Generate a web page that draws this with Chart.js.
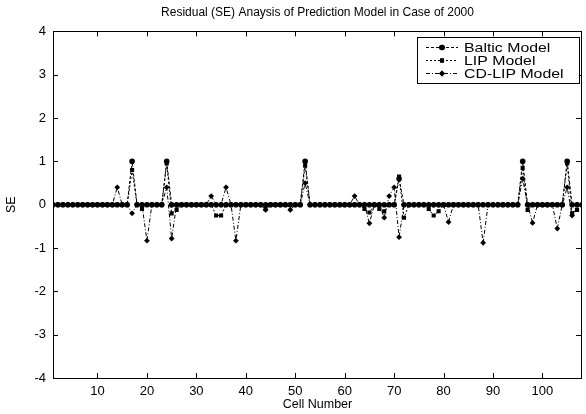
<!DOCTYPE html>
<html>
<head>
<meta charset="utf-8">
<script src="https://cdn.jsdelivr.net/npm/chart.js@4.4.1/dist/chart.umd.min.js"></script>
<style>
  html, body { margin: 0; padding: 0; background: #fff; }
  #wrap { width: 586px; height: 414px; }
</style>
</head>
<body>
<div id="wrap"><canvas id="chart" width="586" height="414"></canvas></div>
<script>
// cell numbers 1..108
const cells = Array.from({ length: 108 }, (_, i) => i + 1);

// residuals, 12 cells per row
const baltic = [
  0, 0, 0, 0, 0, 0, 0, 0, 0, 0, 0, 0,
  0, 0, 0, 0, 1.0, 0, 0, 0, 0, 0, 0, 1.0,
  0, 0, 0, 0, 0, 0, 0, 0, 0, 0, 0, 0,
  0, 0, 0, 0, 0, 0, 0, 0, 0, 0, 0, 0,
  0, 0, 0, 1.0, 0, 0, 0, 0, 0, 0, 0, 0,
  0, 0, 0, 0, 0, 0, 0, 0, 0, 0, 0.6, 0,
  0, 0, 0, 0, 0, 0, 0, 0, 0, 0, 0, 0,
  0, 0, 0, 0, 0, 0, 0, 0, 0, 0, 0, 1.0,
  0, 0, 0, 0, 0, 0, 0, 0, 1.0, 0, 0, 0
];
const lip = [
  0, 0, 0, 0, 0, 0, 0, 0, 0, 0, 0, 0,
  0, 0, 0, 0, 0.8, 0, -0.1, 0, 0, 0, 0, 0.95,
  -0.2, -0.12, 0, 0, 0, 0, 0, 0, 0, -0.25, -0.25, 0,
  0, 0, 0, 0, 0, 0, 0, -0.1, 0, 0, 0, 0,
  0, 0, 0, 0.9, 0, 0, 0, 0, 0, 0, 0, 0,
  0, 0, 0, -0.1, -0.18, 0, -0.1, -0.15, 0, 0, 0.65, -0.3,
  0, 0, 0, 0, -0.1, -0.25, -0.15, 0, 0, 0, 0, 0,
  0, 0, 0, 0, 0, 0, 0, 0, 0, 0, 0, 0.85,
  -0.12, 0, 0, 0, 0, 0, 0, 0, 0.95, -0.2, -0.12, 0
];
const cdlip = [
  0, 0, 0, 0, 0, 0, 0, 0, 0, 0, 0, 0,
  0, 0.4, 0, 0, -0.2, 0, 0, -0.83, 0, 0, 0, 0.4,
  -0.78, 0, 0, 0, 0, 0, 0, 0, 0.2, 0, 0, 0.4,
  0, -0.83, 0, 0, 0, 0, 0, -0.12, 0, 0, 0, 0,
  -0.12, 0, 0, 0.5, 0, 0, 0, 0, 0, 0, 0, 0,
  0, 0.2, 0, 0, -0.43, 0, 0, -0.3, 0.2, 0.4, -0.75, 0,
  0, 0, 0, 0, 0, 0, 0, 0, -0.4, 0, 0, 0,
  0, 0, 0, -0.88, 0, 0, 0, 0, 0, 0, 0, 0.6,
  0, -0.42, 0, 0, 0, 0, -0.55, 0, 0.4, -0.25, 0, 0
];

const seriesNames = ["Baltic Model", "LIP Model", "CD-LIP Model"];
const xTicks = [10, 20, 30, 40, 50, 60, 70, 80, 90, 100];
const yTicks = [-4, -3, -2, -1, 0, 1, 2, 3, 4];

const FONT = "'Liberation Sans', Arial, sans-serif";

function pts(vals) {
  return cells.map((c, i) => ({ x: c, y: vals[i] }));
}

function makeSet(label, vals, style, dash) {
  return {
    label: label,
    data: pts(vals),
    borderColor: "#000",
    backgroundColor: "#000",
    borderWidth: 1,
    borderDash: dash,
    pointStyle: style,
    pointRadius: style === "circle" ? 2.8 : 2.9,
    pointBorderWidth: 0,
    pointBackgroundColor: "#000",
    tension: 0,
    fill: false
  };
}

/* frame + inward ticks, MATLAB style */
const framePlugin = {
  id: "frame",
  afterDraw(chart) {
    const ctx = chart.ctx;
    const a = chart.chartArea;
    const xs = chart.scales.x, ys = chart.scales.y;
    const L = 5;
    ctx.save();
    ctx.strokeStyle = "#000";
    ctx.lineWidth = 1;
    ctx.setLineDash([]);
    ctx.strokeRect(Math.round(a.left) + 0.5, Math.round(a.top) + 0.5,
      Math.round(a.right - a.left) - 1, Math.round(a.bottom - a.top));
    ctx.beginPath();
    xTicks.forEach(v => {
      const px = Math.round(xs.getPixelForValue(v)) + 0.5;
      ctx.moveTo(px, a.bottom); ctx.lineTo(px, a.bottom - L);
      ctx.moveTo(px, a.top); ctx.lineTo(px, a.top + L);
    });
    yTicks.forEach(v => {
      const py = Math.round(ys.getPixelForValue(v)) + 0.5;
      ctx.moveTo(a.left, py); ctx.lineTo(a.left + L, py);
      ctx.moveTo(a.right - 1, py); ctx.lineTo(a.right - 1 - L, py);
    });
    ctx.stroke();
    ctx.restore();
  }
};

/* boxed legend in the top right corner */
const legendPlugin = {
  id: "boxLegend",
  afterDraw(chart) {
    const ctx = chart.ctx;
    const a = chart.chartArea;
    const w = 162, rowH = 13;
    const x0 = Math.round(a.right - w - 3), y0 = Math.round(a.top + 6);
    const h = Math.round(rowH * chart.data.datasets.length + 7);
    ctx.save();
    ctx.fillStyle = "#fff";
    ctx.fillRect(x0, y0, w, h);
    ctx.strokeStyle = "#000";
    ctx.lineWidth = 1;
    ctx.strokeRect(x0 + 0.5, y0 + 0.5, w, h);
    ctx.textBaseline = "middle";
    chart.data.datasets.forEach((ds, i) => {
      const cy = Math.round(y0 + 3.5 + rowH * i + rowH / 2) + 0.5;
      ctx.strokeStyle = "#000";
      ctx.setLineDash(ds.borderDash);
      ctx.beginPath();
      ctx.moveTo(x0 + 9, cy);
      ctx.lineTo(x0 + 41, cy);
      ctx.stroke();
      ctx.setLineDash([]);
      ctx.fillStyle = "#000";
      Chart.helpers.drawPoint(ctx, {
        pointStyle: ds.pointStyle, radius: ds.pointRadius, rotation: 0, borderWidth: 0
      }, x0 + 25, cy);
      ctx.fill();
      // the scanned legend text is wider than normal, stretch it a bit
      ctx.save();
      ctx.translate(x0 + 47, cy + 0.5);
      ctx.scale(1.22, 1);
      ctx.font = "13px " + FONT;
      ctx.fillText(ds.label, 0, 0);
      ctx.restore();
    });
    ctx.restore();
  }
};

new Chart(document.getElementById("chart"), {
  type: "line",
  data: {
    datasets: [
      makeSet(seriesNames[0], baltic, "circle", [3, 2]),
      makeSet(seriesNames[1], lip, "rect", [2, 2]),
      makeSet(seriesNames[2], cdlip, "rectRot", [4, 2, 1, 2])
    ]
  },
  options: {
    responsive: false,
    animation: false,
    layout: { padding: { left: 0, right: 0, top: 0, bottom: 0 } },
    plugins: {
      legend: { display: false },
      tooltip: { enabled: false },
      title: {
        display: true,
        fullSize: false,
        text: "Residual (SE) Anaysis of Prediction Model in Case of 2000",
        color: "#000",
        font: { family: FONT, size: 12, weight: "normal" },
        padding: { top: 5, bottom: 12 }
      }
    },
    scales: {
      x: {
        type: "linear",
        min: 1,
        max: 108,
        grid: { display: false, drawTicks: false },
        border: { display: false },
        afterBuildTicks(s) { s.ticks = xTicks.map(v => ({ value: v })); },
        afterFit(s) { s.height = 36; },
        ticks: { color: "#000", padding: 6, maxRotation: 0, font: { family: FONT, size: 13 } },
        title: {
          display: true, text: "Cell Number", color: "#000",
          font: { family: FONT, size: 12.5 }, padding: { top: 0, bottom: 2 }
        }
      },
      y: {
        min: -4,
        max: 4,
        grid: { display: false, drawTicks: false },
        border: { display: false },
        afterBuildTicks(s) { s.ticks = yTicks.map(v => ({ value: v })); },
        afterFit(s) { s.width = 53; },
        ticks: { color: "#000", padding: 7, font: { family: FONT, size: 13 } },
        title: {
          display: true, text: "SE", color: "#000",
          font: { family: FONT, size: 12.5 }, padding: { top: 4, bottom: 0 }
        }
      }
    }
  },
  plugins: [framePlugin, legendPlugin]
});
</script>
</body>
</html>
